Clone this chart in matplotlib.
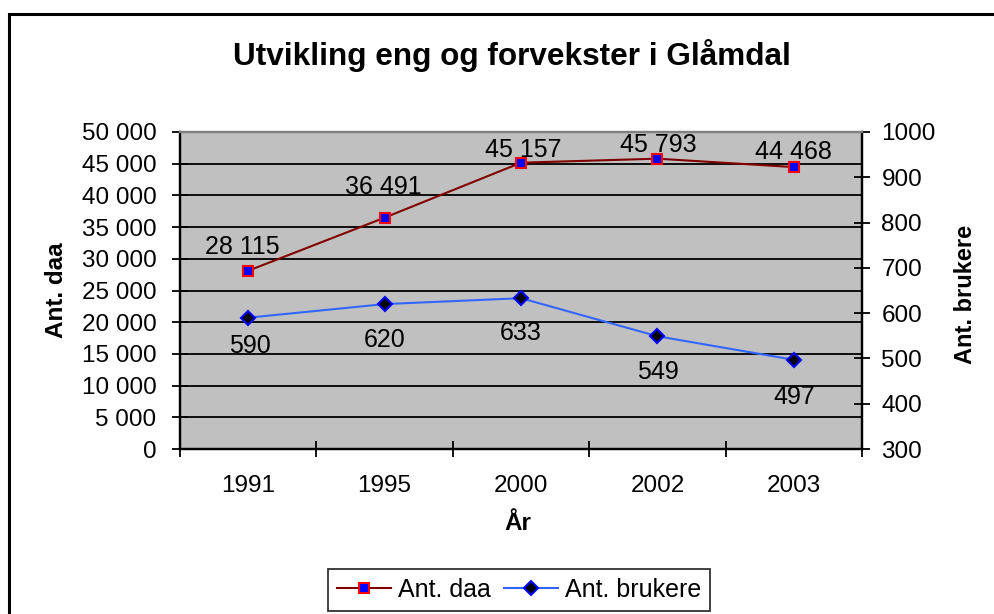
import numpy as np
import matplotlib
matplotlib.use("Agg")
import matplotlib.pyplot as plt
from matplotlib.patches import Rectangle

years = ["1991", "1995", "2000", "2002", "2003"]
ant_daa = [28115, 36491, 45157, 45793, 44468]
ant_brukere = [590, 620, 633, 549, 497]

# label nudges in pixels (as placed in the original chart)
daa_offsets = [(-6, 27), (-1, 34), (2, 16), (1, 17), (0, 18)]
brukere_offsets = [(2, -25), (0, -33), (0, -32), (1, -33), (0, -34)]

plt.rcParams['font.family'] = ['Liberation Sans', 'DejaVu Sans']

W, H = 995, 614
fig = plt.figure(figsize=(W / 100, H / 100), dpi=100)

# outer chart border (runs off the right and bottom edge)
fig.patches.append(Rectangle((9 / W, -0.05), 1.1, 1 - 14 / H + 0.05,
                             transform=fig.transFigure, fill=False,
                             edgecolor='black', linewidth=2.2))

left, right, top, bottom = 180, 862, 132, 449
ax = fig.add_axes([left / W, (H - bottom) / H, (right - left) / W, (bottom - top) / H])
ax.set_facecolor('#c0c0c0')
ax2 = ax.twinx()

x = np.arange(len(years))
line1, = ax.plot(x, ant_daa, color='#800000', lw=1.5, marker='s', ms=7,
                 mfc='#0000ff', mec='#ff0000', mew=1.5, label='Ant. daa', zorder=3)
line2, = ax2.plot(x, ant_brukere, color='#3366ff', lw=1.5, marker='D', ms=7,
                  mfc='black', mec='#0000ff', mew=1.5, label='Ant. brukere', zorder=3)

ax.set_xlim(-0.5, len(years) - 0.5)
ax.set_ylim(0, 50000)
ax2.set_ylim(300, 1000)

yt = np.arange(0, 50001, 5000)
ax.set_yticks(yt)
ax.set_yticklabels([f"{v:,}".replace(",", " ") for v in yt])
ax2.set_yticks(np.arange(300, 1001, 100))

ax.set_xticks(np.arange(-0.5, len(years), 1.0))
ax.set_xticklabels([])
ax.set_xticks(x, minor=True)
ax.set_xticklabels(years, minor=True)
ax.tick_params(axis='x', which='major', direction='inout', length=11, width=1.3)
ax.tick_params(axis='x', which='minor', length=0, pad=19, labelsize=17.5)
ax.tick_params(axis='y', direction='inout', length=11, width=1.3, labelsize=17.5, pad=11.5)
ax2.tick_params(axis='y', direction='inout', length=11, width=1.3, labelsize=17.5, pad=8.5)

ax.yaxis.grid(True, color='black', lw=1.3)
ax.set_axisbelow(True)
for a in (ax, ax2):
    for s in ('left', 'right', 'bottom'):
        a.spines[s].set_linewidth(1.6)
    a.spines['top'].set_color('#808080')
    a.spines['top'].set_linewidth(1.6)

for i, v in enumerate(ant_daa):
    dx, dy = daa_offsets[i]
    ax.annotate(f"{v:,}".replace(",", " "), (i, v), xytext=(dx, dy - 3),
                textcoords='offset pixels', ha='center', va='center', fontsize=18)
for i, v in enumerate(ant_brukere):
    dx, dy = brukere_offsets[i]
    ax2.annotate(str(v), (i, v), xytext=(dx, dy - 3), textcoords='offset pixels',
                 ha='center', va='center', fontsize=18)

fig.text(0.5 * (233 + 790) / W, 1 - 55 / H, "Utvikling eng og forvekster i Glåmdal",
         ha='center', va='center', fontsize=22.7, fontweight='bold')
fig.text(57 / W, 1 - 290 / H, "Ant. daa", rotation=90, ha='center', va='center',
         fontsize=17.5, fontweight='bold')
fig.text(966 / W, 1 - 294 / H, "Ant. brukere", rotation=90, ha='center', va='center',
         fontsize=17, fontweight='bold')
fig.text(518 / W, 1 - 524 / H, "År", ha='center', va='center',
         fontsize=17.5, fontweight='bold')

leg = fig.legend([line1, line2], ['Ant. daa', 'Ant. brukere'], ncol=2,
                 loc='center', bbox_to_anchor=(519 / W, 1 - 590 / H),
                 fontsize=18, frameon=True, fancybox=False, edgecolor='black',
                 handlelength=2.16, handletextpad=0.28, columnspacing=0.52,
                 borderpad=0.35, borderaxespad=0)
leg.get_frame().set_linewidth(1.3)

fig.savefig("out.png", dpi=100)
